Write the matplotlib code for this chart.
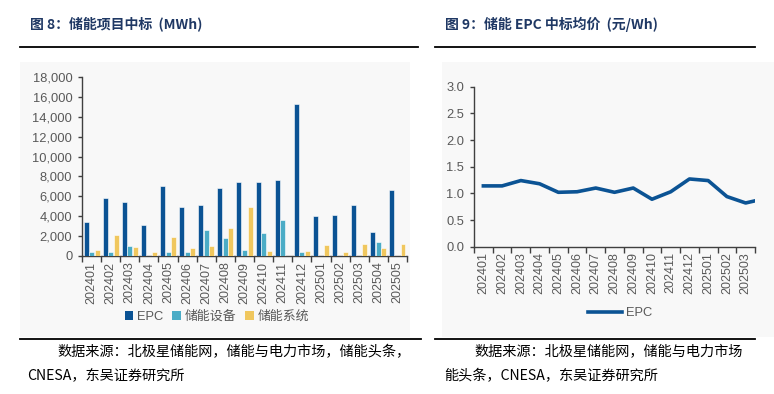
import matplotlib
matplotlib.use("Agg")
import matplotlib.pyplot as plt
import numpy as np
from matplotlib.patches import Rectangle, Patch
from matplotlib.lines import Line2D
from matplotlib.ticker import FuncFormatter

plt.rcParams['font.family'] = ['Liberation Sans', 'Noto Sans CJK SC', 'DejaVu Sans']

# ---------------- data ----------------
months_left = ["202401", "202402", "202403", "202404", "202405", "202406", "202407", "202408",
               "202409", "202410", "202411", "202412", "202501", "202502", "202503", "202504", "202505"]
epc_mwh = [3380, 5790, 5380, 3140, 7060, 4920, 5080, 6860, 7490, 7490, 7690, 15280, 4010, 4110, 5080, 2410, 6620]
equip_mwh = [370, 430, 1000, 0, 370, 430, 2600, 1840, 600, 2270, 3610, 400, 0, 0, 0, 1400, 0]
system_mwh = [600, 2100, 940, 430, 1900, 840, 1000, 2780, 4920, 540, 0, 540, 1140, 370, 1240, 840, 1240]
series_names = ["EPC", "储能设备", "储能系统"]

months_right = ["202401", "202402", "202403", "202404", "202405", "202406", "202407", "202408",
                "202409", "202410", "202411", "202412", "202501", "202502", "202503", "202504"]
epc_price = [1.14, 1.14, 1.24, 1.18, 1.02, 1.03, 1.10, 1.02, 1.10, 0.89, 1.03, 1.27, 1.24, 0.94, 0.82, 0.90]
visible_right = 15  # the reference is cropped after 202503

title_left = "图 8：储能项目中标  (MWh)"
title_right = "图 9：储能 EPC 中标均价  (元/Wh)"
src_left = ["数据来源：北极星储能网，储能与电力市场，储能头条，", "CNESA，东吴证券研究所"]
src_right = ["数据来源：北极星储能网，储能与电力市场", "能头条，CNESA，东吴证券研究所"]

# ---------------- style ----------------
C_EPC = "#0b5394"
C_EQ = "#4bacc6"
C_SYS = "#f0c75e"
C_TXT = "#595959"
C_SPINE = "#404040"
C_TITLE = "#1f3864"
BG = "#f8f8f8"
CJK = ['Noto Sans CJK SC', 'DejaVu Sans']

W, H = 774, 394
fig = plt.figure(figsize=(W / 100, H / 100), dpi=100)


def fx(px):
    return px / W


def fy(py):
    return 1 - py / H


# background panels
fig.patches.append(Rectangle((fx(20), fy(337)), fx(410) - fx(20), fy(62) - fy(337),
                             transform=fig.transFigure, facecolor=BG, edgecolor='none', zorder=-5))
fig.patches.append(Rectangle((fx(442), fy(337)), fx(774) - fx(442), fy(62) - fy(337),
                             transform=fig.transFigure, facecolor=BG, edgecolor='none', zorder=-5))

# title / source rules
for (x0, x1, y) in [(20, 418, 47), (435, 755, 47), (20, 421, 339), (435, 755, 339)]:
    fig.add_artist(Line2D([fx(x0), fx(x1)], [fy(y), fy(y)], transform=fig.transFigure,
                          color="black", lw=1.3))

# titles
fig.text(fx(30), fy(24), title_left, fontsize=10, fontweight='bold', color=C_TITLE,
         family=CJK, va='center', ha='left')
fig.text(fx(445), fy(24), title_right, fontsize=10, fontweight='bold', color=C_TITLE,
         family=CJK, va='center', ha='left')

# sources
fig.text(fx(57), fy(352), src_left[0], fontsize=10.2, color='black', family=CJK, va='center', ha='left')
fig.text(fx(27), fy(376), src_left[1], fontsize=10.2, color='black', family=CJK, va='center', ha='left')
fig.text(fx(474), fy(352), src_right[0], fontsize=10.2, color='black', family=CJK, va='center', ha='left')
fig.text(fx(444), fy(376), src_right[1], fontsize=10.2, color='black', family=CJK, va='center', ha='left')


def style_axes(ax):
    ax.set_facecolor('none')
    ax.set_zorder(2)
    for s in ['top', 'right']:
        ax.spines[s].set_visible(False)
    for s in ['left', 'bottom']:
        ax.spines[s].set_color(C_SPINE)
        ax.spines[s].set_linewidth(1.0)
    ax.tick_params(axis='y', which='major', direction='out', length=3, width=1,
                   color=C_SPINE, labelcolor=C_TXT, labelsize=9.3, pad=4)
    ax.tick_params(axis='x', which='major', direction='out', length=4, width=1,
                   color=C_SPINE, labelbottom=False)
    ax.tick_params(axis='x', which='minor', length=0, labelcolor=C_TXT, labelsize=9,
                   labelrotation=90, pad=4)


# ---------------- left chart ----------------
axL = fig.add_axes([fx(82), fy(256), fx(407) - fx(82), fy(77) - fy(256)])
style_axes(axL)
x = np.arange(len(months_left))
bw = 0.26
off = 0.29
axL.bar(x - off, epc_mwh, bw, color=C_EPC, edgecolor='white', linewidth=0.4, zorder=3)
axL.bar(x, equip_mwh, bw, color=C_EQ, edgecolor='white', linewidth=0.4, zorder=3)
axL.bar(x + off, system_mwh, bw, color=C_SYS, edgecolor='white', linewidth=0.4, zorder=3)
axL.set_xlim(-0.5, len(months_left) - 0.5)
axL.set_ylim(0, 18000)
axL.set_yticks(np.arange(0, 18001, 2000))
axL.yaxis.set_major_formatter(FuncFormatter(lambda v, p: f"{v:,.0f}"))
axL.set_xticks(np.arange(-0.5, len(months_left)), minor=False)
axL.set_xticks(x, minor=True)
axL.set_xticklabels(months_left, minor=True)

handles = [Patch(facecolor=c, edgecolor='none') for c in (C_EPC, C_EQ, C_SYS)]
fig.legend(handles, series_names, loc='center', bbox_to_anchor=(fx(217), fy(317)),
           ncol=3, frameon=False, fontsize=9.3, handlelength=0.65, handleheight=0.65,
           handletextpad=0.3, columnspacing=0.7, labelcolor=C_TXT)

# ---------------- right chart ----------------
axR = fig.add_axes([fx(474), fy(246.7), fx(755) - fx(474), fy(86.7) - fy(246.7)])
style_axes(axR)
xr = np.arange(len(months_right))
axR.plot(xr, epc_price, color=C_EPC, lw=2.6, solid_joinstyle='round', zorder=3)
axR.set_xlim(-0.5, visible_right - 0.5)
axR.set_ylim(0, 3.0)
axR.set_yticks(np.arange(0, 3.01, 0.5))
axR.yaxis.set_major_formatter(FuncFormatter(lambda v, p: f"{v:.1f}"))
axR.set_xticks(np.arange(-0.5, visible_right), minor=False)
axR.set_xticks(xr[:visible_right], minor=True)
axR.set_xticklabels(months_right[:visible_right], minor=True)

fig.legend([Line2D([0], [0], color=C_EPC, lw=2.6)], ["EPC"], loc='center',
           bbox_to_anchor=(fx(620), fy(313)), frameon=False, fontsize=9.3,
           handlelength=2.7, handletextpad=0.3, labelcolor=C_TXT)

fig.savefig("out.png", dpi=100)
